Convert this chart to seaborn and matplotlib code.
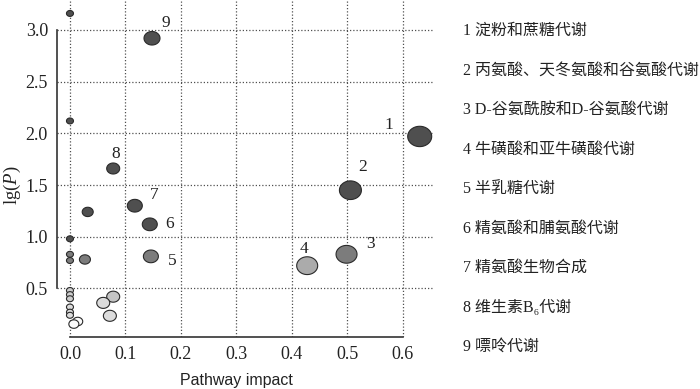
import matplotlib
matplotlib.use("Agg")
import matplotlib.pyplot as plt
import numpy as np
import pandas as pd
import seaborn as sns
from matplotlib.path import Path
from matplotlib.markers import MarkerStyle

# ---------------- data ----------------
impact = [0.0, 0.0, 0.0, 0.0, 0.0, 0.0, 0.0, 0.0, 0.0, 0.0, 0.0, 0.014, 0.007,
          0.032, 0.027, 0.148, 0.078, 0.117, 0.144, 0.146, 0.631, 0.506, 0.499,
          0.428, 0.078, 0.060, 0.072]
lgP = [3.16, 2.12, 0.98, 0.83, 0.77, 0.48, 0.44, 0.40, 0.32, 0.27, 0.24, 0.18,
       0.155, 1.24, 0.78, 2.92, 1.66, 1.30, 1.12, 0.81, 1.97, 1.45, 0.83, 0.72,
       0.42, 0.36, 0.235]
point_label = ["", "", "", "", "", "", "", "", "", "", "", "", "",
               "", "", "9", "8", "7", "6", "5", "1", "2", "3", "4", "", "", ""]
pathway_names = ["淀粉和蔗糖代谢", "丙氨酸、天冬氨酸和谷氨酸代谢",
                 "D-谷氨酰胺和D-谷氨酸代谢", "牛磺酸和亚牛磺酸代谢", "半乳糖代谢",
                 "精氨酸和脯氨酸代谢", "精氨酸生物合成", "维生素B\u2086代谢", "嘌呤代谢"]
x_ticks = [0.0, 0.1, 0.2, 0.3, 0.4, 0.5, 0.6]
y_ticks = [0.5, 1.0, 1.5, 2.0, 2.5, 3.0]

# ---------------- styles ----------------
shade = ["d", "d", "d", "m", "m", "l1", "l1", "l1", "l2", "l2", "l2", "w", "w",
         "d", "m", "d", "d", "d", "d", "m", "d", "d", "m", "l4", "l3", "l2", "l2"]
shade_colors = {"d": "#4f4f4f", "m": "#7c7c7c", "l4": "#ababab", "l3": "#c4c4c4",
                "l1": "#cdcdcd", "l2": "#dcdcdc", "w": "#fbfbfb"}
marker_px = [7, 7, 7, 7, 7, 7, 7, 7, 7, 7, 7, 10, 10,
             11, 11, 16, 13, 15, 15, 15, 24, 22, 21, 21, 13, 13, 13]
label_offsets = {"1": (-22, 8.6), "2": (8.6, 16.6), "3": (17.3, 7.2),
                 "4": (-2.2, 12), "5": (15.3, -3.4), "6": (14.4, 0),
                 "7": (13.9, 7.9), "8": (1.7, 10.8), "9": (9.9, 10.8)}

DPI = 100
df = pd.DataFrame({"impact": impact, "lgP": lgP, "label": point_label,
                   "shade": shade,
                   "area": [(p * 72 / DPI) ** 2 for p in marker_px]})

sns.set_style("white")
plt.rcParams["font.family"] = ["Liberation Serif", "Noto Sans CJK SC", "DejaVu Sans"]
plt.rcParams["mathtext.fontset"] = "custom"
plt.rcParams["mathtext.rm"] = "Liberation Serif"
plt.rcParams["mathtext.it"] = "Liberation Serif:italic"

fig = plt.figure(figsize=(7.0, 3.89), dpi=DPI)
ax = fig.add_axes([57 / 700, 1 - 337 / 389, (433 - 57) / 700, 337 / 389])

# ellipse marker (slightly wider than tall)
t = np.linspace(0, 2 * np.pi, 65)
ell = Path(np.column_stack([1.18 * np.cos(t), np.sin(t)]), closed=True)
marker = MarkerStyle(ell)

sns.scatterplot(data=df, x="impact", y="lgP", hue="shade", palette=shade_colors,
                size="area", sizes={a: a for a in df["area"].unique()},
                marker=marker, edgecolor="#2a2a2a", linewidth=0.8,
                legend=False, ax=ax, zorder=3)

for xi, yi, lab in zip(df["impact"], df["lgP"], df["label"]):
    if lab:
        ax.annotate(lab, (xi, yi), xytext=label_offsets[lab],
                    textcoords="offset points", ha="center", va="center",
                    fontsize=12.5, color="#222222")

ax.set_xlim(-0.0234, 0.655)
ax.set_ylim(0.03, 3.29)
ax.set_xticks(x_ticks)
ax.set_yticks(y_ticks)
ax.set_xticklabels([f"{v:.1f}" for v in x_ticks])
ax.set_yticklabels([f"{v:.1f}" for v in y_ticks])
ax.grid(True, linestyle=(0, (1.0, 1.6)), color="#505050", linewidth=0.9)
ax.set_axisbelow(True)
ax.tick_params(axis="both", direction="out", length=4, width=1,
               color="#333333", labelsize=13, labelcolor="#222222", pad=2.5)
for side in ["top", "right"]:
    ax.spines[side].set_visible(False)
ax.spines["left"].set_bounds(0.5, 3.0)
ax.spines["bottom"].set_bounds(0.0, 0.6)
for side in ["left", "bottom"]:
    ax.spines[side].set_color("#333333")
    ax.spines[side].set_linewidth(1.2)

ax.set_xlabel("")
ax.set_ylabel("")
fig.text(236 / 700, 1 - 381 / 389, "Pathway impact", ha="center", va="center",
         fontsize=11.5, family=["Liberation Sans"], color="#222222")
fig.text(12 / 700, 1 - 185 / 389, "lg($P$)", ha="center", va="center",
         rotation=90, fontsize=13.5, color="#222222")

for i, name in enumerate(pathway_names):
    yy = 31 + i * 39.5
    fig.text(463 / 700, 1 - yy / 389, f"{i + 1} {name}", ha="left", va="center",
             fontsize=11.5, color="#222222")

fig.savefig("out.png", dpi=DPI)
